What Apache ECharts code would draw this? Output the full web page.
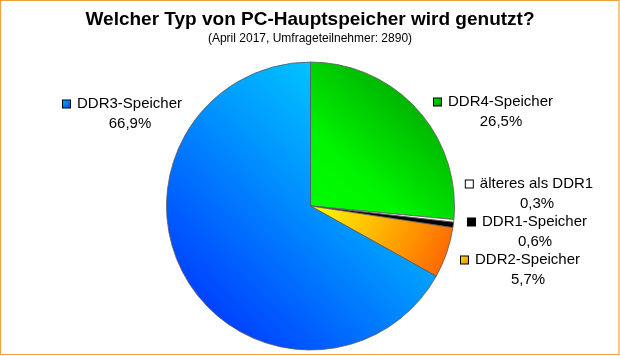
<!DOCTYPE html>
<html>
<head>
<meta charset="utf-8">
<script src="https://cdn.jsdelivr.net/npm/echarts@6/dist/echarts.min.js"></script>
<style>
html,body{margin:0;padding:0;background:#fff;}
#chart{width:620px;height:356px;}
</style>
</head>
<body>
<div id="chart"></div>
<script>
// Data
var categories = ['DDR4-Speicher', 'älteres als DDR1', 'DDR1-Speicher', 'DDR2-Speicher', 'DDR3-Speicher'];
var shares = [26.5, 0.3, 0.6, 5.7, 66.9];
var titleText = 'Welcher Typ von PC-Hauptspeicher wird genutzt?';
var subtitleText = '(April 2017, Umfrageteilnehmer: 2890)';

// Styles
function lin(x, y, x2, y2, stops) {
  return {type: 'linear', x: x, y: y, x2: x2, y2: y2, colorStops: stops.map(function (s) { return {offset: s[0], color: s[1]}; })};
}
var sliceFills = [
  lin(0, 1, 1, 0, [[0, '#00ff00'], [0.3, '#00f500'], [1, '#008c00']]),
  '#ffffff',
  '#000000',
  lin(0, 0, 1, 1, [[0, '#ffff00'], [1, '#ff5a00']]),
  lin(1, 0, 0, 1, [[0, '#00ecff'], [0.45, '#0098ff'], [1, '#0022ff']])
];
var squareFills = [
  lin(0, 0, 1, 1, [[0, '#00ee00'], [1, '#008800']]),
  '#ffffff',
  '#000000',
  lin(0, 0, 1, 1, [[0, '#ffee00'], [1, '#ff7700']]),
  lin(0, 0, 1, 1, [[0, '#00b0ff'], [1, '#0040ff']])
];
// label anchor (center of text, center of two-line block)
var labelPos = [[501, 112], [537, 194], [535, 232], [528, 270], [130, 114]];

var chart = echarts.init(document.getElementById('chart'), null, {renderer: 'canvas'});

var data = categories.map(function (c, i) {
  var rich = {};
  rich['sq' + i] = {width: 7, height: 7, backgroundColor: squareFills[i], borderColor: '#000', borderWidth: 1};
  return {
    name: c,
    value: shares[i],
    itemStyle: {color: sliceFills[i]},
    label: {rich: rich}
  };
});

var option = {
  backgroundColor: '#ffffff',
  animation: false,
  title: {
    text: titleText,
    subtext: subtitleText,
    left: 'center',
    top: 5,
    itemGap: 4,
    textStyle: {fontFamily: 'Liberation Sans', fontWeight: 'bold', fontSize: 19, color: '#000'},
    subtextStyle: {fontFamily: 'Liberation Sans', fontSize: 12, color: '#000'}
  },
  graphic: [{
    type: 'rect',
    shape: {x: 0.5, y: 0.5, width: 618.5, height: 354},
    style: {fill: 'none', stroke: '#f0a03c', lineWidth: 1.2},
    silent: true,
    z: 100
  }],
  series: [{
    type: 'pie',
    center: [310.5, 206],
    radius: [0, 144],
    startAngle: 90,
    clockwise: true,
    avoidLabelOverlap: false,
    minShowLabelAngle: 0,
    itemStyle: {borderColor: '#5a5a5a', borderWidth: 0.8},
    labelLine: {show: false},
    label: {
      show: true,
      position: 'outside',
      fontFamily: 'Liberation Sans',
      fontSize: 15,
      color: '#000',
      lineHeight: 20,
      align: 'center',
      formatter: function (p) {
        var v = p.value.toFixed(1).replace('.', ',') + '%';
        return '{sq' + p.dataIndex + '|}{gap|}' + p.name + '\n{sp|}' + v;
      },
      rich: {
        gap: {width: 7},
        sp: {width: 15}
      }
    },
    labelLayout: function (params) {
      var pos = labelPos[params.dataIndex];
      return {x: pos[0] - 7.5, y: pos[1], align: 'center', verticalAlign: 'middle'};
    },
    emphasis: {disabled: true},
    data: data
  }]
};
chart.setOption(option);
</script>
</body>
</html>
